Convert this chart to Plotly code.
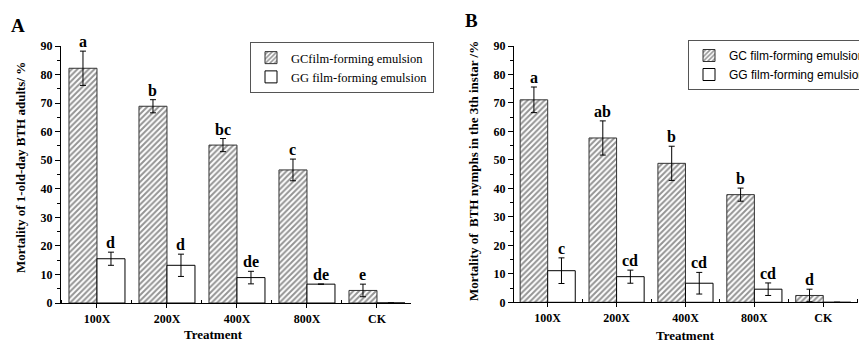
import plotly.graph_objects as go

categories = ["100X", "200X", "400X", "800X", "CK"]

a_gc = [82.2, 68.9, 55.3, 46.6, 4.4]
a_gc_err = [6.0, 2.3, 2.3, 3.8, 2.2]
a_gg = [15.5, 13.2, 8.9, 6.6, 0]
a_gg_err = [2.3, 3.9, 2.2, 0, 0]
a_gc_letters = ["a", "b", "bc", "c", "e"]
a_gg_letters = ["d", "d", "de", "de", ""]

b_gc = [71.1, 57.7, 48.8, 37.8, 2.4]
b_gc_err = [4.5, 6.0, 6.0, 2.3, 2.2]
b_gg = [11.1, 9.0, 6.7, 4.6, 0]
b_gg_err = [4.5, 2.3, 3.8, 2.2, 0]
b_gc_letters = ["a", "ab", "b", "b", "d"]
b_gg_letters = ["c", "cd", "cd", "cd", ""]

SERIF = "Liberation Serif, Times New Roman, serif"
SANS = "Liberation Sans, Arial, sans-serif"

W, H = 867, 343
OFF = 8  # page body margin


def px(x):
    return (x - OFF) / W


def py(y):
    return 1 - (y - OFF) / H


xpos = list(range(len(categories)))

fig = go.Figure()


def add_panel(gc, gc_err, gg, gg_err, xa, ya, legend, gc_name, gg_name):
    fig.add_trace(go.Bar(
        x=xpos, y=gc, name=gc_name, xaxis=xa, yaxis=ya, legend=legend,
        marker=dict(color="white", line=dict(color="#333", width=1),
                    pattern=dict(shape="/", fgcolor="#2a2a2a", bgcolor="white", size=4, solidity=0.5)),
        error_y=dict(type="data", array=gc_err, color="black", thickness=1, width=3),
        offsetgroup="gc",
    ))
    fig.add_trace(go.Bar(
        x=xpos, y=gg, name=gg_name, xaxis=xa, yaxis=ya, legend=legend,
        marker=dict(color="white", line=dict(color="black", width=1)),
        error_y=dict(type="data", array=gg_err, color="black", thickness=1, width=3),
        offsetgroup="gg",
    ))


add_panel(a_gc, a_gc_err, a_gg, a_gg_err, "x", "y", "legend",
          "GCfilm-forming emulsion", "GG film-forming emulsion")
add_panel(b_gc, b_gc_err, b_gg, b_gg_err, "x2", "y2", "legend2",
          "GC film-forming emulsion", "GG film-forming emulsion")

annotations = []


def add_letters(vals, errs, letters, offset, xref, yref):
    for i, (v, e, t) in enumerate(zip(vals, errs, letters)):
        if not t:
            continue
        annotations.append(dict(
            x=i + offset, y=v + e, xref=xref, yref=yref, text=t, showarrow=False,
            xanchor="center", yanchor="bottom", yshift=-1,
            font=dict(family=SERIF, size=16, color="black", weight="bold")))


add_letters(a_gc, a_gc_err, a_gc_letters, -0.2, "x", "y")
add_letters(a_gg, a_gg_err, a_gg_letters, 0.2, "x", "y")
add_letters(b_gc, b_gc_err, b_gc_letters, -0.2, "x2", "y2")
add_letters(b_gg, b_gg_err, b_gg_letters, 0.2, "x2", "y2")


def label(x, y, text, size, angle=0):
    return dict(x=px(x), y=py(y), xref="paper", yref="paper", text=text, showarrow=False,
                xanchor="center", yanchor="middle", textangle=angle,
                font=dict(family=SERIF, size=size, color="black", weight="bold"))


annotations += [
    label(18, 25, "A", 19),
    label(472, 21, "B", 19),
    label(20, 168, "Mortality of 1-old-day BTH adults/ %", 13, -90),
    label(473, 171, "Mortality of  BTH nymphs in the 3th instar /%", 13, -90),
    label(213, 334.5, "Treatment", 13),
    label(685, 335, "Treatment", 13),
]

tickfont = dict(family=SERIF, size=12, color="black", weight="bold")
xcommon = dict(tickvals=xpos, ticktext=categories, showline=True, linecolor="black", linewidth=1.2,
               ticks="outside", ticklen=4, tickcolor="black", tickfont=tickfont, showgrid=False,
               zeroline=False, automargin=False,
               minor=dict(tick0=0.5, dtick=1, ticks="inside", ticklen=3, tickcolor="black", showgrid=False))
ycommon = dict(range=[0, 90], dtick=10, showline=True, linecolor="black", linewidth=1.2,
               ticks="outside", ticklen=5, tickcolor="black", tickfont=tickfont, showgrid=False,
               zeroline=False, automargin=False,
               minor=dict(dtick=5, ticks="outside", ticklen=3, tickcolor="black", showgrid=False))

fig.update_layout(
    width=W, height=H,
    margin=dict(l=0, r=0, t=0, b=0, autoexpand=False),
    paper_bgcolor="white", plot_bgcolor="white",
    barmode="group", bargap=0.2, bargroupgap=0,
    xaxis=dict(domain=[px(61), px(411)], range=[-0.514, 4.486], anchor="y", **xcommon),
    yaxis=dict(domain=[py(303), py(46)], anchor="x", **ycommon),
    xaxis2=dict(domain=[px(514), px(858)], range=[-0.489, 4.504], anchor="y2", **xcommon),
    yaxis2=dict(domain=[py(302.3), py(46)], anchor="x2", **ycommon),
    legend=dict(x=px(250), y=py(42), xanchor="left", yanchor="top",
                bordercolor="#555", borderwidth=1, bgcolor="white",
                font=dict(family=SERIF, size=12.5, color="black"),
                tracegroupgap=0, itemwidth=30),
    legend2=dict(x=px(688), y=py(40), xanchor="left", yanchor="top",
                 bordercolor="#555", borderwidth=1, bgcolor="white",
                 font=dict(family=SANS, size=12, color="black"),
                 tracegroupgap=0, itemwidth=30),
    annotations=annotations,
    showlegend=True,
)

fig.write_html("out.html")
